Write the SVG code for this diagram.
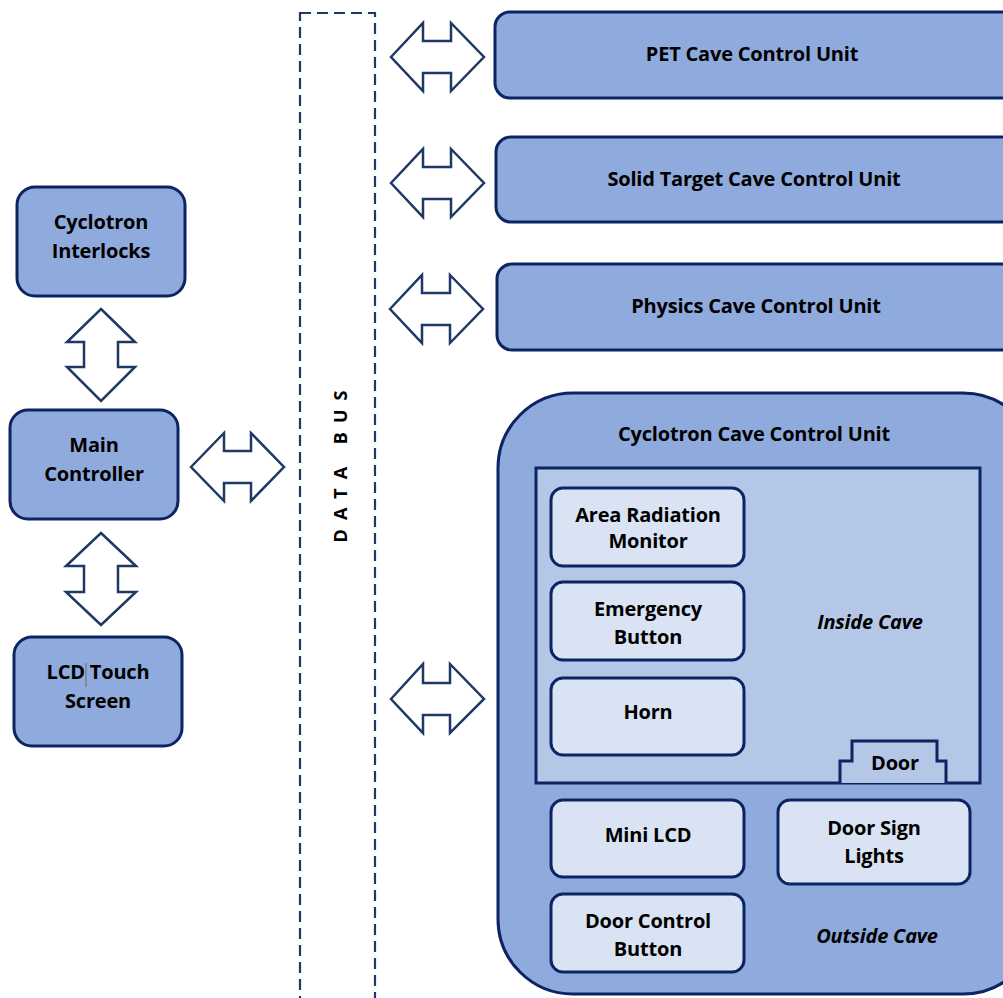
<svg xmlns="http://www.w3.org/2000/svg" width="1003" height="998" viewBox="0 0 1003 998">
<style>
.box{fill:#8faadc;stroke:#0d2463;stroke-width:3}
.inner{fill:#dae3f3;stroke:#0d2463;stroke-width:3}
.arr{fill:#ffffff;stroke:#1f3864;stroke-width:2.5;stroke-linejoin:miter}
.t{font-family:"Open Sans","Liberation Sans",sans-serif;font-weight:bold;font-size:20px;fill:#000;text-anchor:middle;letter-spacing:-0.2px}
.it{font-style:italic}
</style>
<rect width="1003" height="998" fill="#ffffff"/>
<g id="data-bus">
<rect x="300" y="13" width="75" height="1000" fill="none" stroke="#1f3864" stroke-width="2.2" stroke-dasharray="11,6"/>
<text class="t" transform="translate(347,462) rotate(-90)" style="letter-spacing:9px;font-size:18px">DATA BUS</text>
</g>
<g id="cyclotron-interlocks">
<rect class="box" x="17" y="187" width="168" height="109" rx="18"/>
<text class="t" x="101" y="229">Cyclotron</text>
<text class="t" x="101" y="258">Interlocks</text>
</g>
<g id="main-controller">
<rect class="box" x="10" y="410" width="168" height="109" rx="18"/>
<text class="t" x="94" y="452">Main</text>
<text class="t" x="94" y="481">Controller</text>
</g>
<g id="lcd-touch-screen">
<rect class="box" x="14" y="637" width="168" height="109" rx="18"/>
<text class="t" x="98" y="679">LCD Touch</text>
<text class="t" x="98" y="708">Screen</text>
<line x1="86" y1="663" x2="86" y2="687" stroke="#7f6a4a" stroke-width="1"/>
</g>
<g id="pet">
<rect class="box" x="495" y="12" width="530" height="86" rx="15"/>
<text class="t" x="752" y="61">PET Cave Control Unit</text>
</g>
<g id="solid-target">
<rect class="box" x="496" y="137" width="530" height="85" rx="15"/>
<text class="t" x="754" y="186">Solid Target Cave Control Unit</text>
</g>
<g id="physics">
<rect class="box" x="497" y="264" width="530" height="86" rx="15"/>
<text class="t" x="756" y="313">Physics Cave Control Unit</text>
</g>
<g id="cyclotron-cave">
<rect class="box" x="498" y="393" width="540" height="601" rx="75"/>
<text class="t" x="754" y="441">Cyclotron Cave Control Unit</text>
<rect x="536" y="468" width="444" height="315" fill="#b4c7e7" stroke="#0d2463" stroke-width="3"/>
<text class="t it" x="870" y="629">Inside Cave</text>
<text class="t it" x="877" y="943">Outside Cave</text>
</g>
<g id="area-radiation-monitor">
<rect class="inner" x="551" y="488" width="193" height="78" rx="12"/>
<text class="t" x="648" y="522">Area Radiation</text>
<text class="t" x="648" y="548">Monitor</text>
</g>
<g id="emergency-button">
<rect class="inner" x="551" y="582" width="193" height="78" rx="12"/>
<text class="t" x="648" y="616">Emergency</text>
<text class="t" x="648" y="644">Button</text>
</g>
<g id="horn">
<rect class="inner" x="551" y="678" width="193" height="77" rx="12"/>
<text class="t" x="648" y="719">Horn</text>
</g>
<g id="door">
<path d="M840,783 V761 H852 V741 H937 V761 H946 V783" fill="#b4c7e7" stroke="#0d2463" stroke-width="3"/>
<text class="t" x="895" y="770">Door</text>
</g>
<g id="mini-lcd">
<rect class="inner" x="551" y="800" width="193" height="77" rx="12"/>
<text class="t" x="648" y="842">Mini LCD</text>
</g>
<g id="door-sign-lights">
<rect class="inner" x="778" y="800" width="192" height="84" rx="12"/>
<text class="t" x="874" y="835">Door Sign</text>
<text class="t" x="874" y="863">Lights</text>
</g>
<g id="door-control-button">
<rect class="inner" x="551" y="894" width="193" height="78" rx="12"/>
<text class="t" x="648" y="928">Door Control</text>
<text class="t" x="648" y="956">Button</text>
</g>
<g id="connectors">
<path class="arr" d="M101,309 L135,342 H118 V367 H135 L101,401 L67,367 H84 V342 H67 Z"/>
<path class="arr" d="M101,533 L136,566 H118 V592 H136 L101,625 L66,592 H84 V566 H66 Z"/>
<path class="arr" d="M191,467 L224,433 V451 H251 V433 L284,467 L251,501 V483 H224 V501 Z"/>
<path class="arr" d="M391,57 L423,23 V41 H451 V23 L484,57 L451,91 V73 H423 V91 Z"/>
<path class="arr" d="M391,183 L423,149 V167 H451 V149 L484,183 L451,217 V199 H423 V217 Z"/>
<path class="arr" d="M390,309 L422,275 V293 H450 V275 L483,309 L450,343 V325 H422 V343 Z"/>
<path class="arr" d="M391,699 L423,664 V683 H450 V664 L484,699 L450,733 V715 H423 V733 Z"/>
</g>
</svg>
